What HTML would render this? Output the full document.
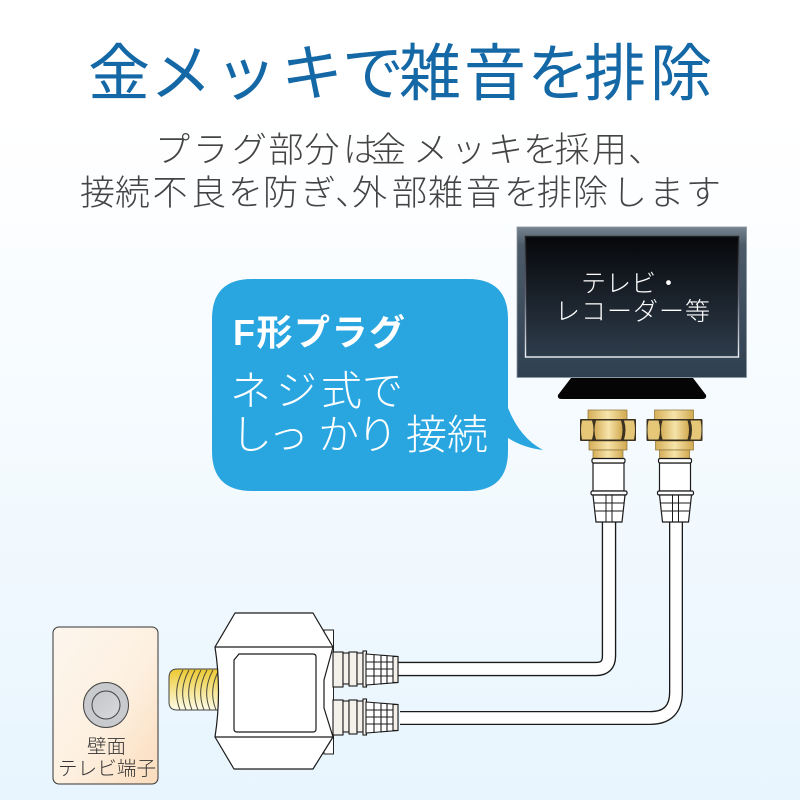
<!DOCTYPE html>
<html lang="ja"><head><meta charset="utf-8"><title>金メッキで雑音を排除</title>
<style>
html,body{margin:0;padding:0;background:#fff}
svg{display:block;width:800px;height:800px}
text{font-family:"Liberation Sans","Noto Sans CJK JP",sans-serif}
.l{font-weight:300}
</style></head><body>
<svg xmlns="http://www.w3.org/2000/svg" width="800" height="800" viewBox="0 0 800 800">
<defs>
<linearGradient id="bg" x1="0" y1="0" x2="0" y2="1"><stop offset="0" stop-color="#fff"/><stop offset=".15" stop-color="#fff"/><stop offset="1" stop-color="#e8f5fe"/></linearGradient>
<linearGradient id="frame" x1="0" y1="0" x2="0" y2="1"><stop offset="0" stop-color="#75838f"/><stop offset=".12" stop-color="#4d5b69"/><stop offset="1" stop-color="#2f4051"/></linearGradient>
<linearGradient id="screen" x1="0" y1="0" x2="0" y2="1"><stop offset="0" stop-color="#06070a"/><stop offset="1" stop-color="#2e3c4b"/></linearGradient>
<linearGradient id="edge" x1="0" y1="0" x2="0" y2="1"><stop offset="0" stop-color="#222"/><stop offset=".5" stop-color="#667"/><stop offset="1" stop-color="#f0f4f8"/></linearGradient>
<linearGradient id="gold" x1="0" y1="0" x2="1" y2="0"><stop offset="0" stop-color="#d6ae58"/><stop offset=".5" stop-color="#f6e4aa"/><stop offset="1" stop-color="#d2a950"/></linearGradient>
<linearGradient id="thread" x1="0" y1="0" x2="0" y2="1"><stop offset="0" stop-color="#edc92f"/><stop offset=".5" stop-color="#f5e38c"/><stop offset="1" stop-color="#fdfbe8"/></linearGradient>
<linearGradient id="plate" x1="0" y1="0" x2="1" y2="1"><stop offset="0" stop-color="#fdf6ee"/><stop offset=".55" stop-color="#fdf0e0"/><stop offset="1" stop-color="#fbdcbc"/></linearGradient>
<linearGradient id="port" x1="0" y1="0" x2="1" y2="1"><stop offset="0" stop-color="#c3c5c9"/><stop offset="1" stop-color="#d8d9dc"/></linearGradient>
<g id="vplug" stroke="#1a1a1a" stroke-width="1.2">
<rect x="588" y="410" width="39" height="10" fill="url(#gold)" stroke="#8a7236" stroke-width=".7"/>
<rect x="589" y="441" width="38" height="9" fill="url(#gold)" stroke="#8a7236" stroke-width=".7"/>
<rect x="593" y="450" width="30" height="9" fill="url(#gold)" stroke="#8a7236" stroke-width=".7"/>
<rect x="580" y="419" width="56" height="22" rx="1" fill="#3a3120" stroke="none"/>
<path d="M582 420.500H592Q595 430 592 439.500H582Q580 430 582 420.500z" fill="#e6c677" stroke="none"/>
<path d="M596 420.500H621Q624 430 621 439.500H596Q593 430 596 420.500z" fill="url(#gold)" stroke="none"/>
<path d="M624 420.500H634Q636 430 634 439.500H624Q627 430 624 420.500z" fill="#e6c677" stroke="none"/>
<rect x="593" y="463" width="31" height="28" fill="#fff"/>
<rect x="592" y="458.500" width="33" height="4.500" rx="1.500" fill="#fff"/>
<rect x="591" y="491" width="36" height="4" rx="1.500" fill="#fff"/>
<path d="M593 495h32l-3 27h-26z" fill="#fff"/>
<path d="M594.500 503h29M595.500 511h27M606 495v27M612 495v27" fill="none" stroke-width="1"/>
</g>
<g id="hplug" stroke="#1a1a1a" stroke-width="1.1">
<rect x="333" y="652" width="10" height="35" fill="#f4f1ea"/>
<rect x="343" y="653" width="6" height="31" fill="#f4f1ea"/>
<rect x="349" y="652" width="8" height="34" fill="#f4f1ea"/>
<rect x="357" y="653" width="6" height="31" fill="#f4f1ea"/>
<rect x="363" y="651" width="3.500" height="36" fill="#f4f1ea"/>
<path d="M366 654l32 2.500v26l-32 2.500z" fill="#fff"/>
<path d="M366 662h27M366 669h27M366 676h27M374 655v30M381 655.500v29M387 656v28" fill="none" stroke-width="1.100"/>
<rect x="393" y="656.500" width="5" height="26" fill="#f4f1ea"/>
</g>
</defs>
<rect width="800" height="800" fill="url(#bg)"/>

<text y="95" font-size="62" fill="#1468a6" x="88 150 215 281 342 399 464 527 584 650">金メッキで雑音を排除</text>
<text class="l" y="162" font-size="35" fill="#444" x="155 193 232 268.500 304.500 343 371 413 451 488 523 554.500 592 628">プラグ部分は金メッキを採用、</text>
<text class="l" y="205" font-size="35" fill="#444" x="80 115 152.500 191 228 263 301 335 352 392 428 466 504 537 573 612 649 686">接続不良を防ぎ、外部雑音を排除します</text>

<rect x="517" y="227" width="229.500" height="150.500" fill="url(#frame)" stroke="#8a97a2" stroke-width=".8"/>
<rect x="525.500" y="236.500" width="213" height="120.500" fill="url(#screen)" stroke="url(#edge)" stroke-width="1.400"/>
<path d="M571 378h122l13 17q1 4-4 4H562q-5 0-4-4z" fill="#050505"/>
<text class="l" x="581" y="292" font-size="25" fill="#fff" textLength="100" lengthAdjust="spacing">テレビ・</text>
<text class="l" x="555" y="320" font-size="25" fill="#fff" textLength="155" lengthAdjust="spacing">レコーダー等</text>

<path d="M252 279H468Q508 279 508 319V408Q520 438 543 450Q524 448 508 438V451Q508 491 468 491H252Q212 491 212 451V319Q212 279 252 279Z" fill="#29a6e0"/>
<text x="233" y="345" font-size="36" font-weight="700" fill="#fff" textLength="172" lengthAdjust="spacing">F形プラグ</text>
<text class="l" y="405" font-size="41" fill="#fff" x="230 276 321 362">ネジ式で</text>
<text class="l" y="449" font-size="41" fill="#fff" x="231 268 318 357 406 447">しっかり接続</text>

<path d="M398 669H596Q609 669 609 656V520" fill="none" stroke="#1a1a1a" stroke-width="14.500"/>
<path d="M398 669H596Q609 669 609 656V520" fill="none" stroke="#fff" stroke-width="11.800"/>
<path d="M400 718H650Q676 718 676 692V520" fill="none" stroke="#1a1a1a" stroke-width="14"/>
<path d="M400 718H650Q676 718 676 692V520" fill="none" stroke="#fff" stroke-width="11.400"/>

<use href="#vplug"/>
<use href="#vplug" x="66.500"/>

<rect x="53" y="627" width="105" height="157" rx="6" fill="url(#plate)" stroke="#333" stroke-width="1"/>
<circle cx="106" cy="705" r="22.500" fill="#c8cacd" stroke="#444" stroke-width="1"/>
<circle cx="106" cy="705" r="14" fill="url(#port)" stroke="#444" stroke-width="1"/>
<text class="l" x="87" y="753" font-size="19.500" fill="#333" textLength="39" lengthAdjust="spacing">壁面</text>
<text class="l" x="58" y="775" font-size="19.500" fill="#333" textLength="98" lengthAdjust="spacing">テレビ端子</text>

<path d="M222 669H177Q169 669 169 678V702Q169 710 177 710H222Z" fill="url(#thread)" stroke="#444" stroke-width="1"/>
<g fill="none" stroke="#4a4a3a" stroke-width="1"><path d="M183 670Q172 690 180 710M189 670Q178 690 186 710M195 670Q184 690 192 710M201 670Q190 690 198 710M207 670Q196 690 204 710M213 670Q202 690 210 710M219 670Q208 690 216 710"/></g>

<rect x="324" y="630" width="9.500" height="124" fill="#fff" stroke="#222" stroke-width="1"/>
<path d="M215 647L235 613H313L333 647L324 680V708L333 737L313 769H234L215 737Q222 692 215 647Z" fill="#fff" stroke="#1a1a1a" stroke-width="1.200" stroke-linejoin="round"/>
<path d="M215 647H333M215 737H333" fill="none" stroke="#1a1a1a" stroke-width="1.200"/>
<path d="M239 654H313Q316 654 316 657V729Q316 732 313 732H237Q234 732 234 729V660Z" fill="#fff" stroke="#1a1a1a" stroke-width="1.200"/>

<use href="#hplug"/>
<use href="#hplug" y="48"/>
</svg>
</body></html>
